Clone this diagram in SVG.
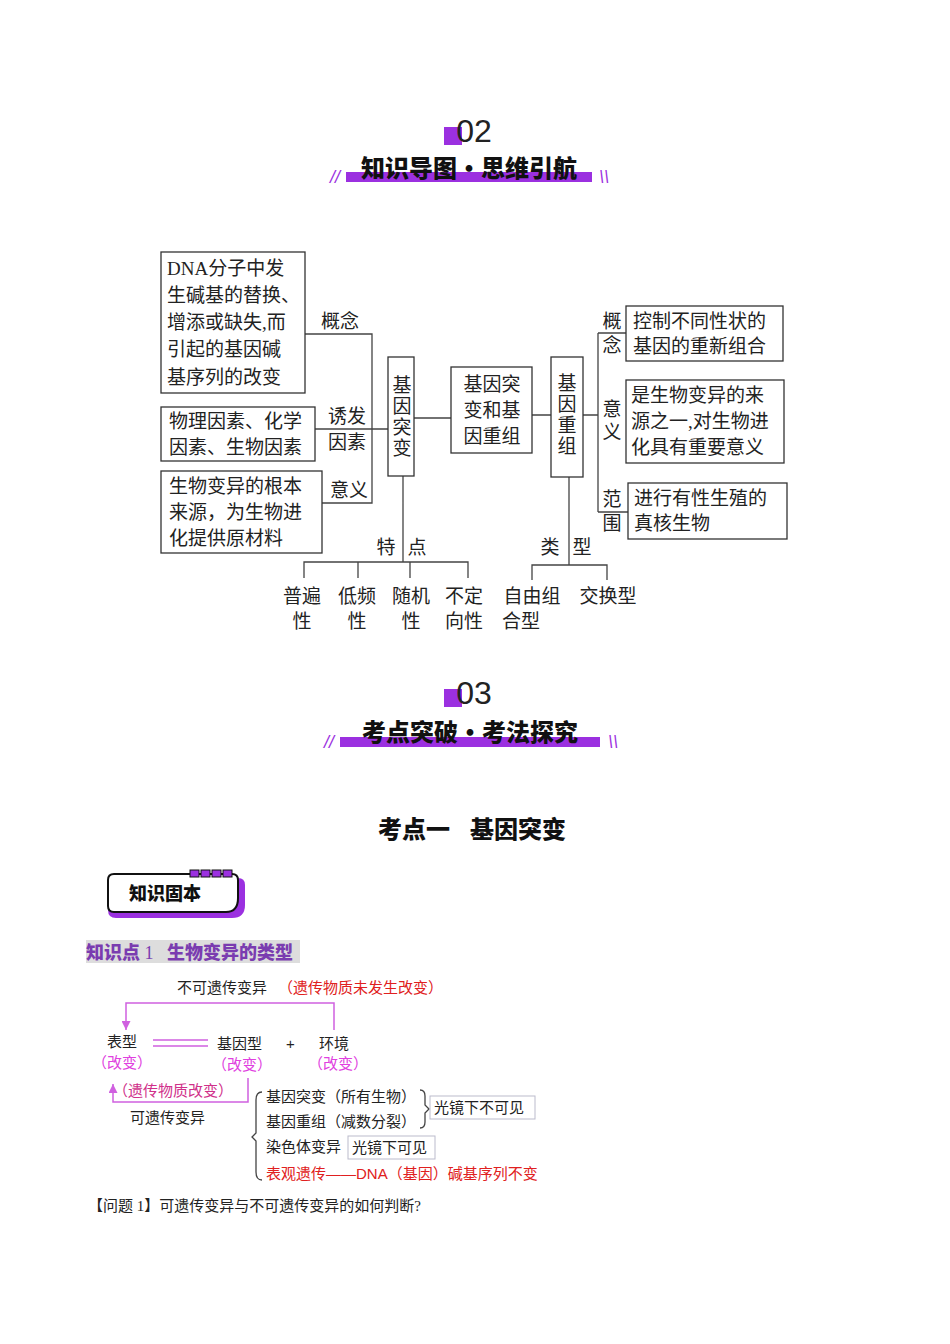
<svg xmlns="http://www.w3.org/2000/svg" width="950" height="1344" viewBox="0 0 950 1344">
<style>
.s{font-family:"Liberation Serif","Noto Sans CJK SC",serif;font-size:19px;fill:#222}
.b{fill:#fff;stroke:#333;stroke-width:1.3}
.l{fill:none;stroke:#444;stroke-width:1.3}
.h{font-family:"Noto Sans CJK SC",sans-serif;font-weight:900;font-size:24px;fill:#111}
.n{font-family:"Liberation Sans","Noto Sans CJK SC",sans-serif;font-size:32px;fill:#222}
.t{font-family:"Liberation Sans","Noto Sans CJK SC",sans-serif;font-size:15px;fill:#222}
.r{fill:#e02020}
.p{fill:#e040e0}
.m{fill:#d0308a}
.pl{fill:none;stroke:#d060e0;stroke-width:1.5}
</style>
<defs>
<marker id="a" viewBox="0 0 8 8" refX="8" refY="4" markerWidth="6" markerHeight="6" orient="auto"><path d="M0,0 L8,4 L0,8z" fill="#d060e0"/></marker>
</defs>
<rect width="950" height="1344" fill="#fff"/>
<g id="head02">
<rect x="444" y="127" width="18" height="18" fill="#9b30e0"/>
<text x="474" y="142" class="n" text-anchor="middle">02</text>
<rect x="346" y="172" width="246" height="10" fill="#9b30e0"/>
<text x="469" y="177" class="h" text-anchor="middle">知识导图•思维引航</text>
<text x="335" y="183" font-family="Liberation Sans" font-size="18" fill="#9b30e0" text-anchor="middle" font-style="italic">//</text>
<text x="604" y="183" font-family="Liberation Sans" font-size="18" fill="#9b30e0" text-anchor="middle" font-style="italic">\\</text>
</g>
<g id="head03">
<rect x="444" y="689" width="18" height="18" fill="#9b30e0"/>
<text x="474" y="704" class="n" text-anchor="middle">03</text>
<rect x="340" y="737" width="260" height="10" fill="#9b30e0"/>
<text x="470" y="741" class="h" text-anchor="middle">考点突破•考法探究</text>
<text x="329" y="748" font-family="Liberation Sans" font-size="18" fill="#9b30e0" text-anchor="middle" font-style="italic">//</text>
<text x="613" y="748" font-family="Liberation Sans" font-size="18" fill="#9b30e0" text-anchor="middle" font-style="italic">\\</text>
</g>
<text class="h"><tspan x="378" y="838">考点一</tspan><tspan x="470" y="838">基因突变</tspan></text>
<g id="connectors">
<path class="l" d="M305,334 H372 V503 H322 M315,429 H388 M414,418 H451 M403,476 V562 M304,578 V562 H468 V578 M358,562 V578 M410,562 V578 M532,415 H551 M583,415 H598 M598,333 V512 M598,333 H626 M598,512 H628 M569,477 V565 M532,580 V565 H607 V580"/>
</g>
<g id="n1"><rect class="b" x="161" y="252" width="144" height="141"/>
<text class="s"><tspan x="167" y="275">DNA分子中发</tspan><tspan x="167" y="302">生碱基的替换、</tspan><tspan x="167" y="329">增添或缺失,而</tspan><tspan x="167" y="356">引起的基因碱</tspan><tspan x="167" y="384">基序列的改变</tspan></text></g>
<g id="n2"><rect class="b" x="161" y="407" width="154" height="54"/>
<text class="s"><tspan x="169" y="428">物理因素、化学</tspan><tspan x="169" y="454">因素、生物因素</tspan></text></g>
<g id="n3"><rect class="b" x="161" y="471" width="161" height="82"/>
<text class="s"><tspan x="169" y="493">生物变异的根本</tspan><tspan x="169" y="519">来源，为生物进</tspan><tspan x="169" y="545">化提供原材料</tspan></text></g>
<text class="s" font-size="17"><tspan x="321" y="328">概念</tspan><tspan x="328" y="423">诱发</tspan><tspan x="328" y="449">因素</tspan><tspan x="330" y="497">意义</tspan></text>
<g id="n4"><rect class="b" x="388" y="357" width="26" height="119"/>
<text class="s" text-anchor="middle"><tspan x="402" y="392">基</tspan><tspan x="402" y="413">因</tspan><tspan x="402" y="434">突</tspan><tspan x="402" y="455">变</tspan></text></g>
<g id="n5"><rect class="b" x="451" y="367" width="81" height="86"/>
<text class="s" text-anchor="middle"><tspan x="492" y="391">基因突</tspan><tspan x="492" y="417">变和基</tspan><tspan x="492" y="443">因重组</tspan></text></g>
<g id="n6"><rect class="b" x="551" y="357" width="32" height="120"/>
<text class="s" text-anchor="middle"><tspan x="567" y="390">基</tspan><tspan x="567" y="411">因</tspan><tspan x="567" y="432">重</tspan><tspan x="567" y="453">组</tspan></text></g>
<g id="n7"><rect class="b" x="626" y="306" width="157" height="55"/>
<text class="s"><tspan x="633" y="328">控制不同性状的</tspan><tspan x="633" y="353">基因的重新组合</tspan></text></g>
<g id="n8"><rect class="b" x="626" y="380" width="158" height="83"/>
<text class="s"><tspan x="631" y="402">是生物变异的来</tspan><tspan x="631" y="428">源之一,对生物进</tspan><tspan x="631" y="454">化具有重要意义</tspan></text></g>
<g id="n9"><rect class="b" x="628" y="483" width="159" height="56"/>
<text class="s"><tspan x="634" y="505">进行有性生殖的</tspan><tspan x="634" y="530">真核生物</tspan></text></g>
<text class="s" font-size="17" text-anchor="middle"><tspan x="612" y="328">概</tspan><tspan x="612" y="352">念</tspan><tspan x="612" y="416">意</tspan><tspan x="612" y="439">义</tspan><tspan x="612" y="506">范</tspan><tspan x="612" y="530">围</tspan></text>
<text class="s" text-anchor="middle"><tspan x="386" y="554">特</tspan><tspan x="417" y="554">点</tspan><tspan x="550" y="554">类</tspan><tspan x="582" y="554">型</tspan></text>
<text class="s" text-anchor="middle"><tspan x="302" y="603">普遍</tspan><tspan x="302" y="628">性</tspan><tspan x="357" y="603">低频</tspan><tspan x="357" y="628">性</tspan><tspan x="411" y="603">随机</tspan><tspan x="411" y="628">性</tspan><tspan x="464" y="603">不定</tspan><tspan x="464" y="628">向性</tspan><tspan x="532" y="603">自由组</tspan><tspan x="521" y="628">合型</tspan><tspan x="608" y="603">交换型</tspan></text>
<g id="badge">
<path d="M116,878 H238 Q245,878 245,885 V905 Q245,918 232,918 H116 Q108,918 108,910 V886 Q108,878 116,878z" fill="#9b30e0"/>
<path d="M114,874 H232 Q238,874 238,880 V898 Q238,912 226,912 H114 Q108,912 108,906 V880 Q108,874 114,874z" fill="#fff" stroke="#111" stroke-width="2"/>
<rect x="190" y="870" width="9" height="7" fill="#9b30e0" stroke="#111"/><rect x="201" y="870" width="9" height="7" fill="#9b30e0" stroke="#111"/><rect x="212" y="870" width="9" height="7" fill="#9b30e0" stroke="#111"/><rect x="223" y="870" width="9" height="7" fill="#9b30e0" stroke="#111"/>
<text x="129" y="900" font-family="Noto Sans CJK SC,sans-serif" font-weight="900" font-size="18" fill="#111">知识固本</text>
</g>
<g id="kp1">
<rect x="86" y="940" width="214" height="23" fill="#ddd"/>
<text x="86" y="959" font-family="Noto Sans CJK SC,sans-serif" font-weight="900" font-size="18" fill="#7a3cb0">知识点<tspan font-family="Liberation Serif" font-weight="normal"> 1 </tspan><tspan x="167">生物变异的类型</tspan></text>
</g>
<g id="bconn">
<path class="pl" d="M334,1030 V1003 H126 V1030" marker-end="url(#a)"/>
<path class="pl" d="M248,1078 V1102 H113 V1084" marker-end="url(#a)"/>
<path class="pl" d="M153,1040 H208 M153,1046 H208"/>
<path class="l" d="M262,1092 Q256,1092 256,1100 V1133 L252,1137 L256,1141 V1172 Q256,1180 262,1180"/>
<path class="l" d="M420,1090 Q425,1090 425,1096 V1105 L429,1109 L425,1113 V1122 Q425,1128 420,1128"/>
</g>
<text class="t" x="177" y="993">不可遗传变异 <tspan class="r" x="278">（遗传物质未发生改变）</tspan></text>
<text class="t" x="107" y="1047">表型</text><text class="t" x="217" y="1049">基因型</text><text class="t" x="286" y="1049">+</text><text class="t" x="319" y="1049">环境</text>
<text class="t p" x="92" y="1068">（改变）</text><text class="t p" x="212" y="1070">（改变）</text><text class="t p" x="308" y="1069">（改变）</text>
<text class="t m" x="113" y="1096">（遗传物质改变）</text>
<text class="t" x="130" y="1123">可遗传变异</text>
<text class="t" x="266" y="1102">基因突变（所有生物）</text>
<text class="t" x="266" y="1127">基因重组（减数分裂）</text>
<rect x="430" y="1096" width="105" height="23" fill="#fff" stroke="#bbc"/>
<text class="t" x="434" y="1113">光镜下不可见</text>
<text class="t" x="266" y="1152">染色体变异</text>
<rect x="348" y="1136" width="87" height="23" fill="#fff" stroke="#bbc"/>
<text class="t" x="352" y="1153">光镜下可见</text>
<text class="t r" x="266" y="1179">表观遗传——DNA（基因）碱基序列不变</text>
<text x="88" y="1211" font-family="Liberation Serif,Noto Sans CJK SC,serif" font-size="15" fill="#222">【问题 1】可遗传变异与不可遗传变异的如何判断?</text>
</svg>
